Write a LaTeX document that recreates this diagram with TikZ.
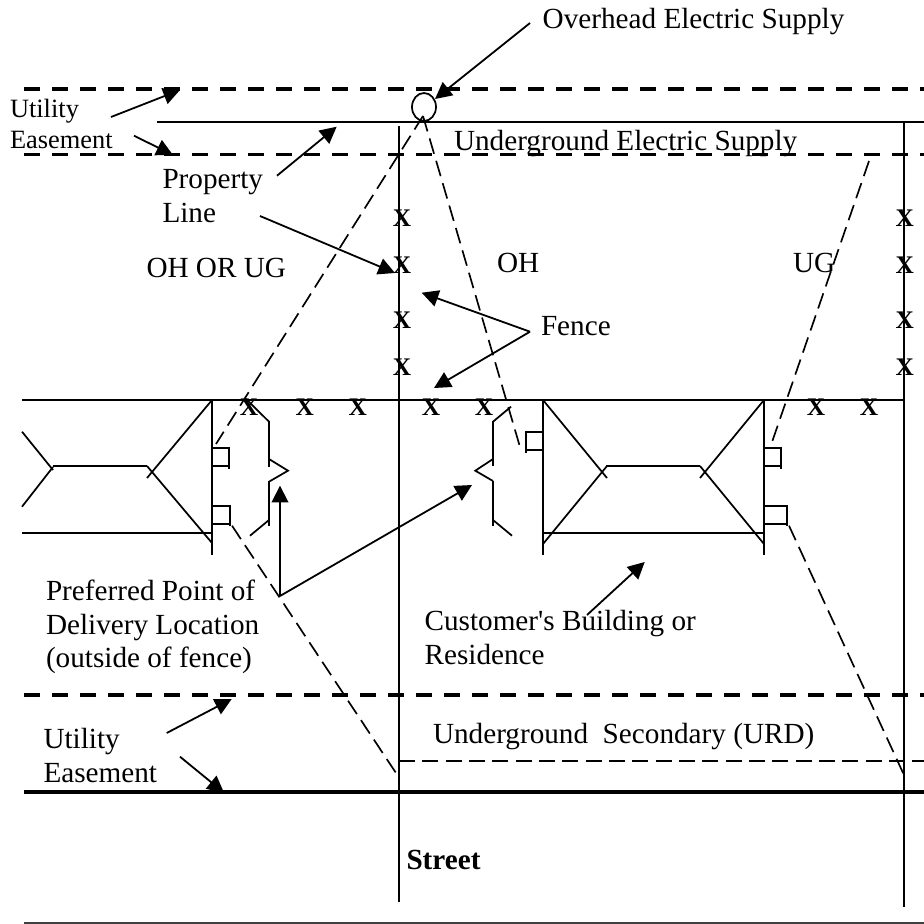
\documentclass[tikz,border=0pt]{standalone}
\usepackage{fontspec}
\setmainfont{Liberation Serif}
\newfontfamily\plainserif{Liberation Serif}
\usetikzlibrary{arrows.meta,shapes.geometric}
\tikzset{
  lab/.style={inner sep=0pt,outer sep=0pt,anchor=base west,font=\fontsize{21.9}{25}\selectfont},
  labsmall/.style={lab,font=\fontsize{19.8}{23}\selectfont},
  labbold/.style={lab,font=\fontsize{21.9}{25}\selectfont\bfseries},
  xmark/.style={inner sep=0pt,outer sep=0pt,anchor=center,font=\fontsize{19}{21}\selectfont\bfseries},
  thinline/.style={line width=1.3pt,line cap=butt},
  thickdash/.style={line width=2.6pt,dash pattern=on 12pt off 9pt},
  thindash/.style={line width=1.25pt,dash pattern=on 12pt off 5.5pt},
  heavy/.style={line width=2.6pt},
  pointer/.style={line width=1.35pt,-{Triangle[length=12.5pt,width=12.5pt]}}
}
\begin{document}
\begin{tikzpicture}[x=0.75pt,y=-0.75pt]
\useasboundingbox (0,0) rectangle (924,924);
% easements and street edge
\draw[thickdash] (24,89) -- (924,89);
\draw[thickdash] (24,154.5) -- (924,154.5);
\draw[thickdash] (24,695) -- (924,695);
\draw[heavy] (24,792) -- (924,792);
\draw[line width=0.8pt,black!75] (24,923) -- (924,923);
\draw[thinline] (157,121.7) -- (924,121.7);
\draw[thinline] (22,400) -- (904,400);
\draw[thinline] (399,126) -- (399,902);
\draw[thinline] (904,122) -- (904,907);
% pole
\node[draw,ellipse,minimum width=18pt,minimum height=21pt,inner sep=0pt,line width=1.3pt] (pole) at (424,107) {};
% service drops
\coordinate (poleA) at (423,116);
\draw[thindash] (poleA) -- (216,444);
\draw[thindash] (poleA) -- (520,447);
\draw[thindash] (869,161) -- (771,445);
\draw[thindash] (232,525.7) -- (396,773);
\draw[thindash] (789,525.7) -- (904,775);
\draw[thindash] (399,760.7) -- (924,760.7);
% left house
\draw[thinline] (212,400) -- (212,555);
\draw[thinline] (22,431.7) -- (53,470);
\draw[thinline] (53,467) -- (22,506.7);
\draw[thinline] (53,466) -- (147,466);
\draw[thinline] (212,400) -- (147,478);
\draw[thinline] (147,466) -- (212,543);
\draw[thinline] (22,533) -- (212,533);
\draw[thinline] (212,448.3) -- (229,448.3) -- (229,469);
\draw[thinline] (212,466) -- (229,466);
\draw[thinline] (212,506.3) -- (230,506.3) -- (230,526);
\draw[thinline] (212,524) -- (230,524);
% left fence brace
\draw[thinline] (245,398) -- (269,421.7);
\draw[thinline] (269,421) -- (269,466.7);
\draw[thinline] (269,459) -- (288,470.7) -- (269,481.7);
\draw[thinline] (269,481) -- (269,526);
\draw[thinline] (269,520) -- (250,535.7);
% right fence brace
\draw[thinline] (511,406.7) -- (493,421.7);
\draw[thinline] (493,421) -- (493,466);
\draw[thinline] (493,459) -- (475.3,470.7) -- (493,481);
\draw[thinline] (493,481) -- (493,526);
\draw[thinline] (493,520) -- (512,535.7);
% right house
\draw[thinline] (543,400) -- (543,555);
\draw[thinline] (764,400) -- (764,555);
\draw[thinline] (543,533) -- (764,533);
\draw[thinline] (606,466) -- (700,466);
\draw[thinline] (543,400) -- (607,478);
\draw[thinline] (607,466) -- (543,544);
\draw[thinline] (764,400) -- (700,478);
\draw[thinline] (700,466) -- (764,544);
\draw[thinline] (543,432) -- (525.7,432) -- (525.7,453);
\draw[thinline] (525.7,450) -- (543,450);
\draw[thinline] (764,448.3) -- (781,448.3) -- (781,469);
\draw[thinline] (764,466) -- (781,466);
\draw[thinline] (764,506.3) -- (787,506.3) -- (787,526);
\draw[thinline] (764,524) -- (787,524);
% fence marks
\foreach \i/\xx/\yy in {a/402/218,b/402/265,c/402/320,d/402/367,e/904.7/218,f/904.7/265,g/904.7/320,h/904.7/367,i/249/407,j/304.7/407,k/357.7/407,l/431/407,m/484/407,n/816/407,o/869/407}
  \node[xmark] (x\i) at (\xx,\yy) {X};
% labels
\node[lab] (overhead) at (542.7,29) {Overhead Electric Supply};
\node[labsmall] (ue1) at (10,117.5) {Utility};
\node[labsmall] (ue2) at (10,148) {Easement};
\node[lab] (prop1) at (162.5,188) {Property};
\node[lab] (prop2) at (162.5,222) {Line};
\node[lab] (ohug) at (146.5,277) {OH OR UG};
\node[lab] (ugsupply) at (454,150) {Underground Electric Supply};
\node[lab] (oh) at (497,272) {OH};
\node[lab] (ug) at (793,272) {UG};
\node[lab] (fence) at (541,335) {Fence};
\node[lab] (pp1) at (46,600) {Preferred Point of};
\node[lab] (pp2) at (46,634) {Delivery Location};
\node[lab] (pp3) at (46,667) {(outside of fence)};
\node[lab] (cb1) at (424.6,630) {{\plainserif Customer's Building or}};
\node[lab] (cb2) at (424.6,664) {Residence};
\node[lab] (le1) at (43.5,748) {Utility};
\node[lab] (le2) at (43.5,782) {Easement};
\node[lab] (urd) at (433,743) {Underground\ \ Secondary (URD)};
\node[labbold] (street) at (406.5,869) {Street};
% pointers
\coordinate (fenceHub) at (530,331.7);
\coordinate (ppHub) at (280,596);
\draw[pointer] (111,117) -- (180,90);
\draw[pointer] (134,135.7) -- (173,155);
\draw[pointer] (277,175.7) -- (336.7,126.7);
\draw[pointer] (260,216) -- (395,273);
\draw[pointer] (530,23) -- (435,99);
\draw[pointer] (fenceHub) -- (421.7,292.7);
\draw[pointer] (fenceHub) -- (434,388);
\draw[pointer] (ppHub) -- (280,485.7);
\draw[pointer] (ppHub) -- (472,485);
\draw[pointer] (587,615) -- (644.7,562);
\draw[pointer] (166.7,733) -- (231.7,699);
\draw[pointer] (180,756.7) -- (224,792.7);
\end{tikzpicture}
\end{document}
